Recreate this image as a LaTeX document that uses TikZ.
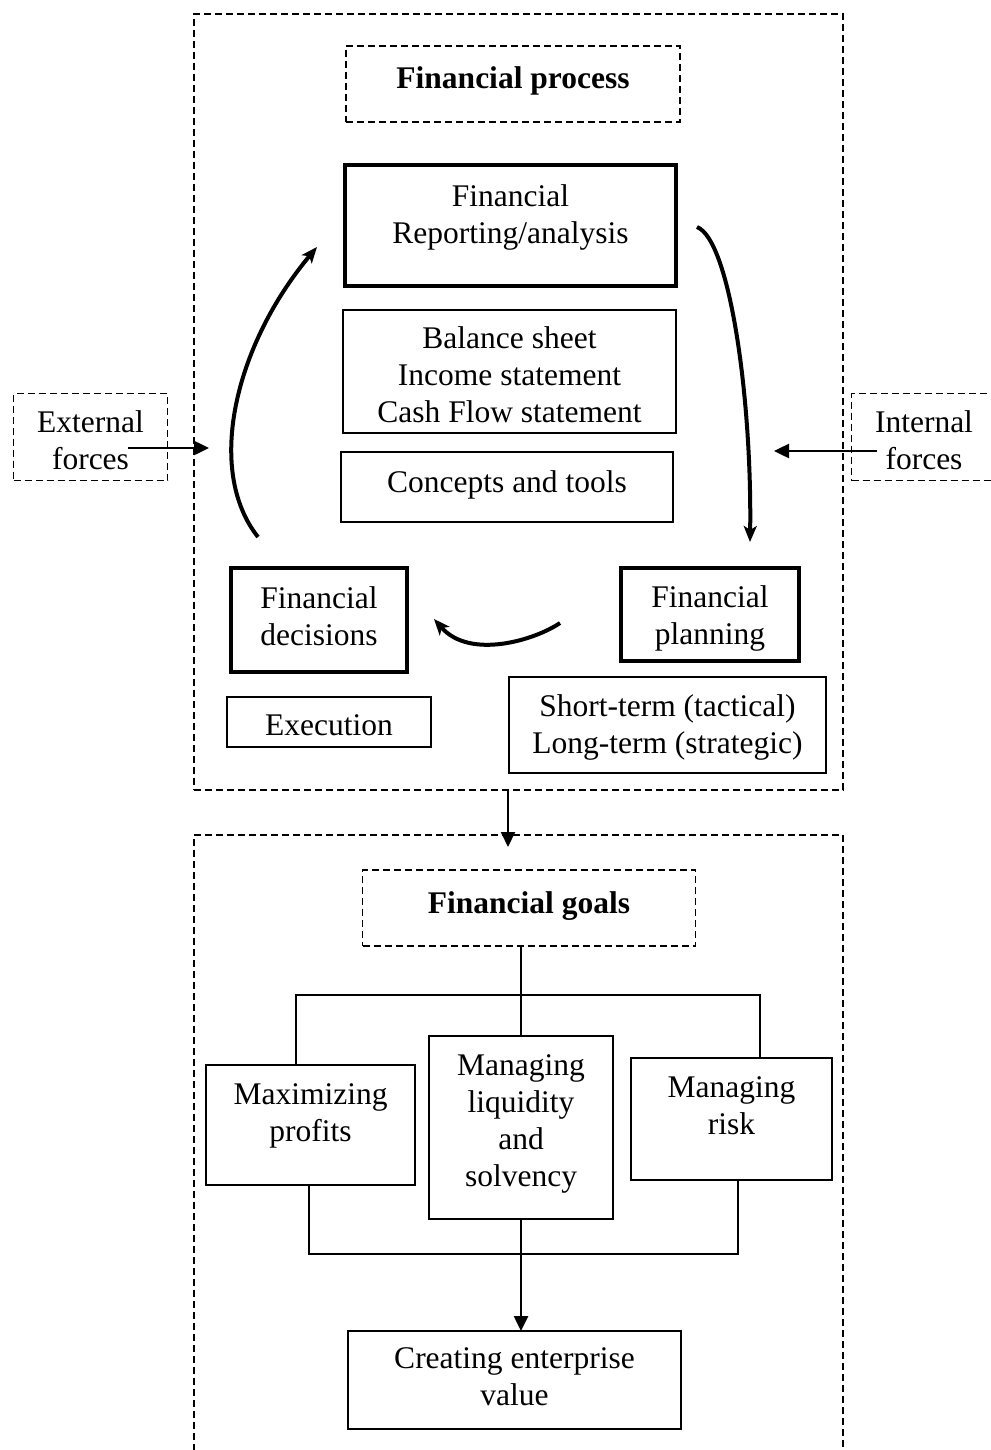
\documentclass[tikz,border=0pt]{standalone}
\usepackage{fontspec}
\setmainfont{Liberation Serif}
\usetikzlibrary{arrows.meta}
\begin{document}
\begin{tikzpicture}[x=1pt,y=-1pt,
  every node/.style={inner sep=0pt, outer sep=0pt},
  sz/.style 2 args={minimum width=#1pt, minimum height=#2pt},
  plainbox/.style={draw, rectangle, line width=1.8pt},
  heavybox/.style={draw, rectangle, line width=4pt},
  dashbox/.style={draw, rectangle, line width=1.5pt, dash pattern=on 7pt off 4pt},
  txt/.style={align=center, font=\fontsize{31.5}{37}\selectfont},
  linkline/.style={line width=1.8pt},
  loopline/.style={line width=4pt, -{Stealth[length=16pt,width=13pt,inset=4pt]}},
  pusharrow/.style={line width=2.5pt, -{Triangle[length=15pt,width=14pt]}},
]
\useasboundingbox (0,0) rectangle (990,1450);

% frames of the two stages
\node[dashbox, sz={649}{776}] (procframe) at (518.5,402) {};
\node[dashbox, sz={649}{645}] (goalsframe) at (518.5,1157.5) {};

% financial process
\node[dashbox, sz={334}{76}] (proc) at (513,84) {};
\node[txt] (proct) at (513,81) {\bfseries Financial process};

\node[heavybox, sz={331}{121}] (rep) at (510.5,225.5) {};
\node[txt] (rept) at (510.5,217) {Financial\\Reporting/analysis};

\node[plainbox, sz={333}{123}] (bal) at (509.5,371.5) {};
\node[txt] (balt) at (509.5,375) {Balance sheet\\Income statement\\Cash Flow statement};

\node[plainbox, sz={332}{70}] (con) at (507,487) {};
\node[txt] (cont) at (507,485) {Concepts and tools};

\node[dashbox, sz={154}{87}] (ext) at (90.5,437) {};
\node[txt] (extt) at (90.5,440.5) {External\\forces};

\node[dashbox, sz={145}{87}] (int) at (924,437) {};
\node[txt] (intt) at (924,440.5) {Internal\\forces};

\node[heavybox, sz={176}{104}] (dec) at (319,620) {};
\node[txt] (dect) at (319,616.5) {Financial\\decisions};

\node[heavybox, sz={178}{93}] (plan) at (710,614.5) {};
\node[txt] (plant) at (710,618.5) {Financial\\planning};

\node[plainbox, sz={204}{50}] (exe) at (329,722) {};
\node[txt] (exet) at (329,725) {Execution};

\node[plainbox, sz={317}{96}] (hor) at (667.5,725) {};
\node[txt] (hort) at (667.5,727.5) {Short-term (tactical)\\Long-term (strategic)};

% financial goals
\node[dashbox, sz={333}{76}] (goals) at (529,908) {};
\node[txt] (goalst) at (529,906) {\bfseries Financial goals};

\node[plainbox, sz={209}{120}] (max) at (310.5,1125) {};
\node[txt] (maxt) at (310.5,1115.5) {Maximizing\\profits};

\node[plainbox, sz={184}{183}] (liq) at (521,1127.5) {};
\node[txt] (liqt) at (521,1123.5) {Managing\\liquidity\\and\\solvency};

\node[plainbox, sz={201}{122}] (risk) at (731.5,1119) {};
\node[txt] (riskt) at (731.5,1105.5) {Managing\\risk};

\node[plainbox, sz={333}{98}] (cev) at (514.5,1380) {};
\node[txt] (cevt) at (514.5,1377) {Creating enterprise\\value};

% connector end points
\coordinate (extfrom) at (128,448);
\coordinate (extin) at (209,448);
\coordinate (intfrom) at (877,451);
\coordinate (intin) at (774,451);
\coordinate (decout) at (258,537);
\coordinate (repin) at (317,247);
\coordinate (repout) at (697,227);
\coordinate (planin) at (750,542);
\coordinate (planout) at (560,623);
\coordinate (decin) at (434,619);
\coordinate (dropend) at (508,847);
\coordinate (tl) at (296,995);
\coordinate (tr) at (760,995);
\coordinate (bl) at (309,1254);
\coordinate (br) at (738,1254);

% the cycle of the financial process
\draw[loopline] (decout) .. controls (205,470) and (235,345) .. (repin);
\draw[loopline] (repout) .. controls (730,240) and (752,400) .. (planin);
\draw[loopline] (planout) .. controls (535,640) and (470,660) .. (decin);

% outside forces
\draw[pusharrow] (extfrom) -- (extin);
\draw[pusharrow] (intfrom) -- (intin);

% from process to goals
\draw[pusharrow, line width=2pt] (procframe.south -| dropend) -- (dropend);

% goal tree
\draw[linkline] (goals.south -| liq.north) -- (liq.north);
\draw[linkline] (max.north -| tl) -- (tl) -- (tr) -- (risk.north -| tr);
\draw[linkline] (max.south -| bl) -- (bl) -- (br) -- (risk.south -| br);
\draw[pusharrow] (liq.south) -- (liq.south |- cev.north);
\end{tikzpicture}
\end{document}
